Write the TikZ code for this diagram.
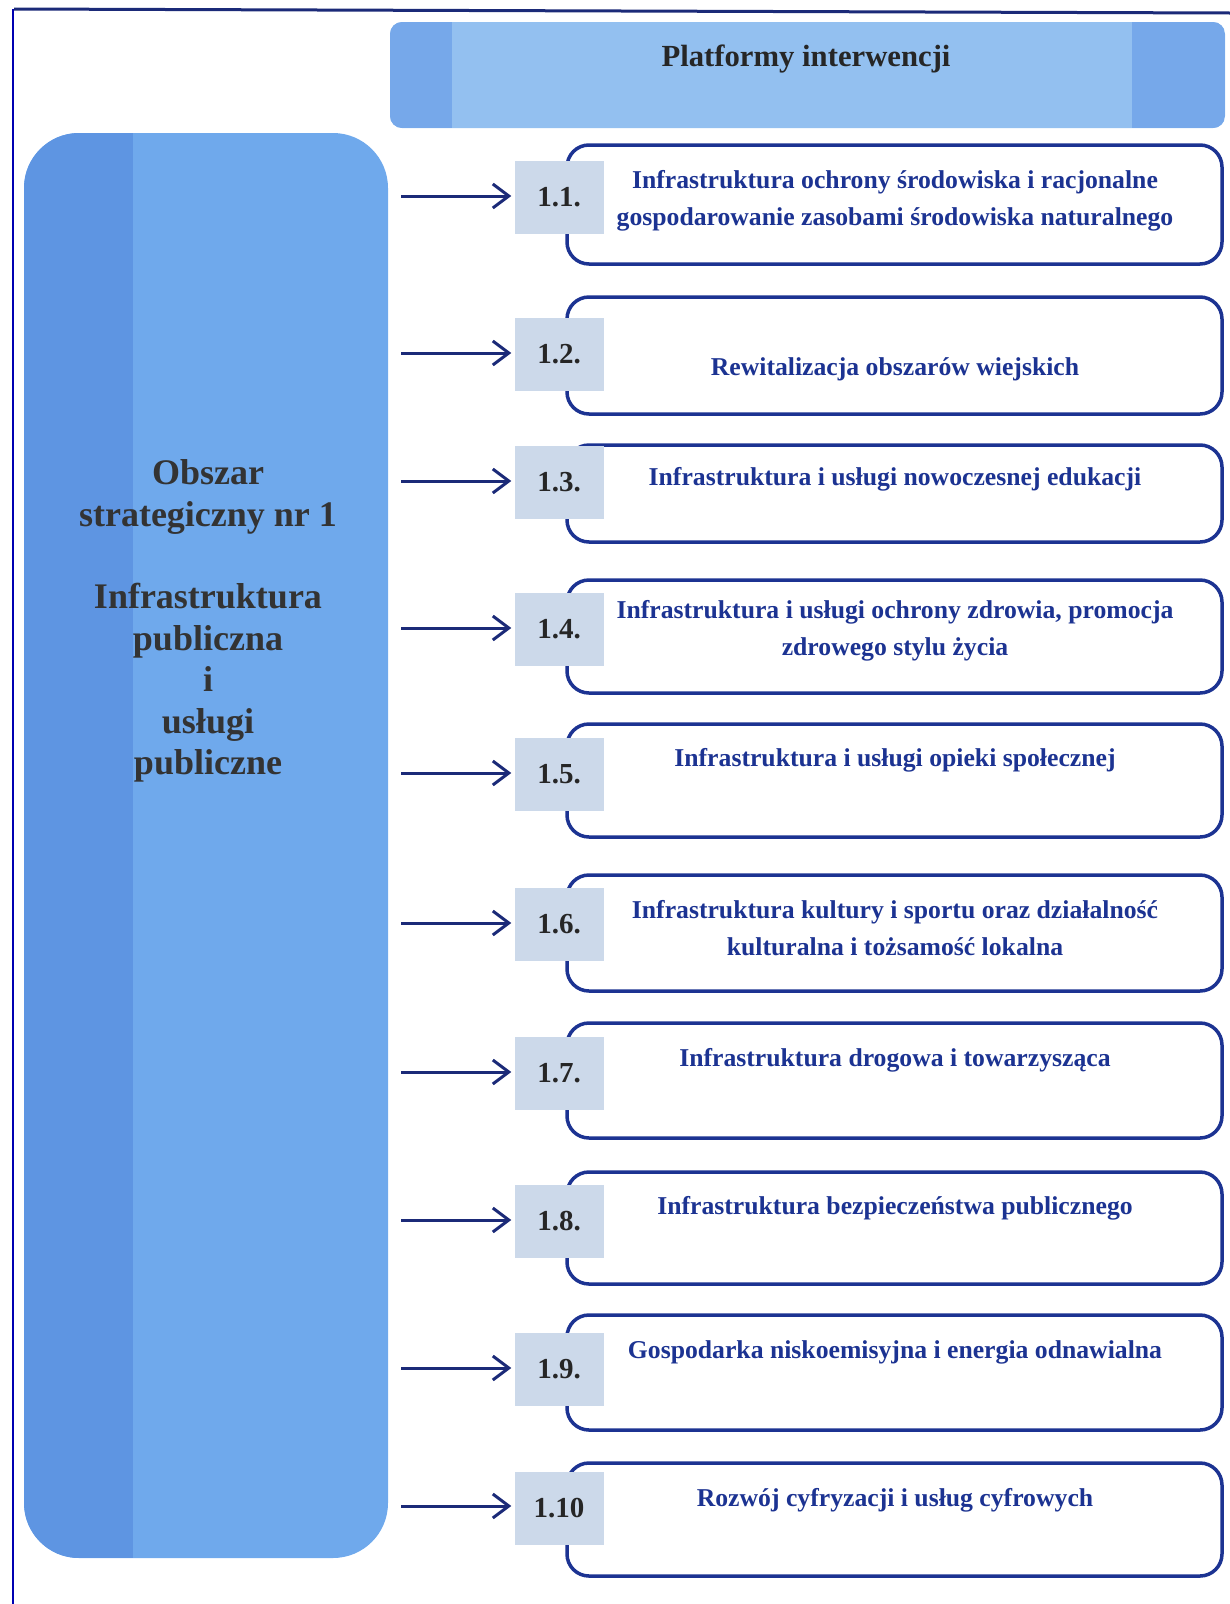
\documentclass[tikz,border=0pt]{standalone}
\usepackage{fontspec}
\setmainfont{Liberation Serif}
\usetikzlibrary{arrows.meta,positioning}
\definecolor{navy}{HTML}{1C3392}
\definecolor{framec}{HTML}{1B2A78}
\definecolor{sideblue}{HTML}{6FA9EC}
\definecolor{sidedark}{HTML}{5E95E2}
\definecolor{headblue}{HTML}{93C0F0}
\definecolor{headedge}{HTML}{76A8EA}
\definecolor{numfill}{HTML}{CCD9EA}
\definecolor{darktext}{HTML}{333333}

\begin{document}
\begin{tikzpicture}[x=1pt,y=-1pt,
  itembox/.style={draw=navy,line width=3.5pt,rounded corners=22pt,fill=white,minimum width=655pt,inner sep=0pt},
  itemtext/.style={text=navy,font=\fontsize{25.7}{37}\selectfont\bfseries,align=center},
  numbox/.style={fill=numfill,minimum width=89pt,minimum height=73pt,inner sep=0pt,font=\fontsize{29}{30}\selectfont\bfseries,text=black!85},
  arr/.style={-{Straight Barb[length=16pt,width=24pt,line width=3pt]},line width=3pt,draw=framec,shorten >=3pt}]
  \useasboundingbox (0,0) rectangle (1230,1604);

  \draw[framec,line width=3pt] (14,9) -- (1230,13);
  \draw[blue!70!black,line width=2pt] (13,9) -- (13,1604);

  \begin{scope}
    \fill[headblue,rounded corners=12pt] (390,22) rectangle (1225,128);
    \clip[rounded corners=12pt] (390,22) rectangle (1225,128);
    \fill[headedge] (390,22) rectangle (452,128);
    \fill[headedge] (1132,22) rectangle (1225,128);
  \end{scope}
  \node[text=black!85,font=\fontsize{30.7}{34}\selectfont\bfseries] (hd) at (806,59) {Platformy interwencji};

  \begin{scope}
    \fill[sideblue,rounded corners=55pt] (24,133) rectangle (388,1558);
    \clip[rounded corners=55pt] (24,133) rectangle (388,1558);
    \fill[sidedark] (24,133) rectangle (133,1558);
  \end{scope}
  \node[text=darktext,font=\fontsize{36}{41.4}\selectfont\bfseries,align=center] (obszar) at (208,621)
    {Obszar\\strategiczny nr 1\\[41.4pt]Infrastruktura\\publiczna\\i\\usługi\\publiczne};

  \node[itembox,minimum height=119pt] (p1) at (894.5,204.5) {};
  \node[itembox,minimum height=117pt] (p2) at (894.5,355.5) {};
  \node[itembox,minimum height=97pt] (p3) at (894.5,493.5) {};
  \node[itembox,minimum height=113pt] (p4) at (894.5,636.5) {};
  \node[itembox,minimum height=113pt] (p5) at (894.5,780.5) {};
  \node[itembox,minimum height=116pt] (p6) at (894.5,933) {};
  \node[itembox,minimum height=115pt] (p7) at (894.5,1080.5) {};
  \node[itembox,minimum height=112pt] (p8) at (894.5,1228) {};
  \node[itembox,minimum height=115pt] (p9) at (894.5,1372.5) {};
  \node[itembox,minimum height=113pt] (p10) at (894.5,1519.5) {};

  \node[itemtext] (t1) at (895,200.5) {Infrastruktura ochrony środowiska i racjonalne\\gospodarowanie zasobami środowiska naturalnego};
  \node[itemtext] (t2) at (895,369) {Rewitalizacja obszarów wiejskich};
  \node[itemtext] (t3) at (895,479) {Infrastruktura i usługi nowoczesnej edukacji};
  \node[itemtext] (t4) at (895,631) {Infrastruktura i usługi ochrony zdrowia, promocja\\zdrowego stylu życia};
  \node[itemtext] (t5) at (895,760) {Infrastruktura i usługi opieki społecznej};
  \node[itemtext] (t6) at (895,928) {Infrastruktura kultury i sportu oraz działalność\\kulturalna i tożsamość lokalna};
  \node[itemtext] (t7) at (895,1060) {Infrastruktura drogowa i towarzysząca};
  \node[itemtext] (t8) at (895,1208) {Infrastruktura bezpieczeństwa publicznego};
  \node[itemtext] (t9) at (895,1352) {Gospodarka niskoemisyjna i energia odnawialna};
  \node[itemtext] (t10) at (895,1500) {Rozwój cyfryzacji i usług cyfrowych};

  \node[numbox] (n1) at (559,197) {1.1.};
  \node[numbox] (n2) at (559,354) {1.2.};
  \node[numbox] (n3) at (559,482) {1.3.};
  \node[numbox] (n4) at (559,629) {1.4.};
  \node[numbox] (n5) at (559,774) {1.5.};
  \node[numbox] (n6) at (559,924) {1.6.};
  \node[numbox] (n7) at (559,1073) {1.7.};
  \node[numbox] (n8) at (559,1221) {1.8.};
  \node[numbox] (n9) at (559,1369) {1.9.};
  \node[numbox] (n10) at (559,1508) {1.10};

  \coordinate (a1) at (401,196);
  \coordinate (a2) at (401,353);
  \coordinate (a3) at (401,481);
  \coordinate (a4) at (401,628);
  \coordinate (a5) at (401,773);
  \coordinate (a6) at (401,923);
  \coordinate (a7) at (401,1072);
  \coordinate (a8) at (401,1220);
  \coordinate (a9) at (401,1368);
  \coordinate (a10) at (401,1506);
  \draw[arr] (a1) -- (a1 -| n1.west);
  \draw[arr] (a2) -- (a2 -| n2.west);
  \draw[arr] (a3) -- (a3 -| n3.west);
  \draw[arr] (a4) -- (a4 -| n4.west);
  \draw[arr] (a5) -- (a5 -| n5.west);
  \draw[arr] (a6) -- (a6 -| n6.west);
  \draw[arr] (a7) -- (a7 -| n7.west);
  \draw[arr] (a8) -- (a8 -| n8.west);
  \draw[arr] (a9) -- (a9 -| n9.west);
  \draw[arr] (a10) -- (a10 -| n10.west);
\end{tikzpicture}
\end{document}
